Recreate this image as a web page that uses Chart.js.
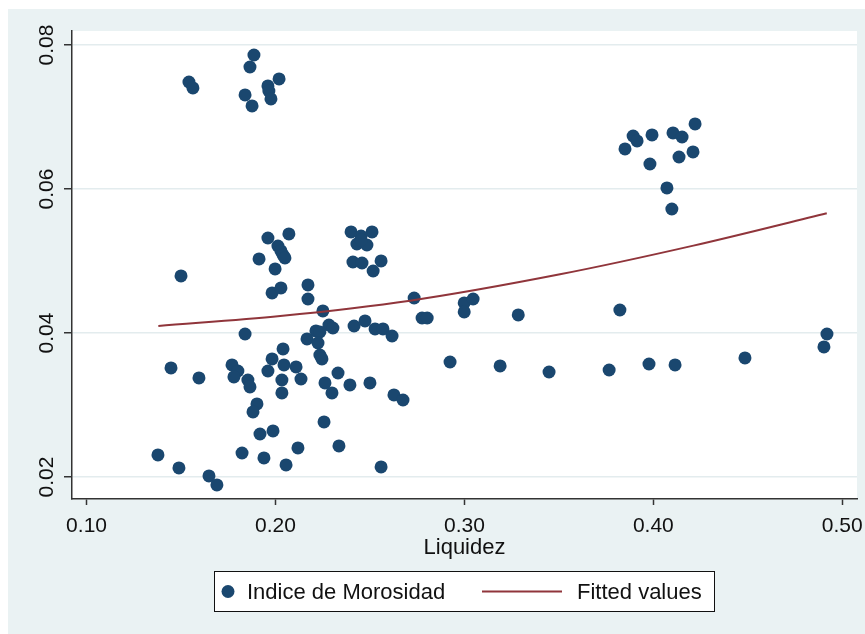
<!DOCTYPE html>
<html>
<head>
<meta charset="utf-8">
<title>Indice de Morosidad vs Liquidez</title>
<script src="https://cdn.jsdelivr.net/npm/chart.js@4.4.0/dist/chart.umd.min.js"></script>
<style>
  body { margin: 0; background: #fff; }
  canvas { display: block; }
</style>
</head>
<body>
<canvas id="scatterChart" width="865" height="634"></canvas>
<script>
// values
const liquidez = [
  0.1542, 0.1563, 0.1886, 0.1865, 0.1839, 0.1876, 0.1960, 0.1965, 0.1976, 0.2019,
  0.1500, 0.1960, 0.2071, 0.2013, 0.2029, 0.2040, 0.2050, 0.1913, 0.1998, 0.1982,
  0.2029, 0.2172, 0.2172, 0.2400, 0.2511, 0.2453, 0.2431, 0.2484, 0.2453, 0.2410,
  0.2458, 0.2559, 0.2517, 0.2734, 0.2776, 0.2803, 0.2999, 0.3046, 0.2999, 0.3285,
  0.2251, 0.2283, 0.2304, 0.2214, 0.2235, 0.2167, 0.2225, 0.2416, 0.2474, 0.2527,
  0.2569, 0.2617, 0.1839, 0.2040, 0.1982, 0.2045, 0.1960, 0.2109, 0.2034, 0.2135,
  0.2034, 0.1770, 0.1801, 0.1780, 0.1854, 0.1865, 0.1902, 0.1881, 0.2235, 0.2246,
  0.2331, 0.2262, 0.2299, 0.2394, 0.2500, 0.2627, 0.2675, 0.1447, 0.1595, 0.2257,
  0.1918, 0.1987, 0.1378, 0.1489, 0.1648, 0.1690, 0.1823, 0.1939, 0.2056, 0.2119,
  0.2336, 0.2559, 0.2924, 0.3189, 0.3448, 0.4221, 0.3893, 0.3914, 0.3850, 0.3993,
  0.4104, 0.4152, 0.4210, 0.4136, 0.3982, 0.4072, 0.4098, 0.3823, 0.3766, 0.3977,
  0.4115, 0.4485, 0.4919, 0.4903
];
const morosidad = [
  0.07486, 0.07403, 0.07861, 0.07694, 0.07306, 0.07153, 0.07431, 0.07361, 0.07250, 0.07528,
  0.04792, 0.05319, 0.05375, 0.05208, 0.05139, 0.05083, 0.05042, 0.05028, 0.04889, 0.04556,
  0.04625, 0.04667, 0.04472, 0.05403, 0.05403, 0.05347, 0.05236, 0.05222, 0.05292, 0.04986,
  0.04972, 0.05000, 0.04861, 0.04486, 0.04208, 0.04208, 0.04417, 0.04472, 0.04292, 0.04250,
  0.04306, 0.04111, 0.04069, 0.04028, 0.04014, 0.03917, 0.03861, 0.04097, 0.04167, 0.04056,
  0.04056, 0.03958, 0.03986, 0.03778, 0.03639, 0.03556, 0.03472, 0.03528, 0.03347, 0.03361,
  0.03167, 0.03556, 0.03472, 0.03389, 0.03347, 0.03250, 0.03014, 0.02903, 0.03694, 0.03639,
  0.03444, 0.03306, 0.03167, 0.03278, 0.03306, 0.03139, 0.03069, 0.03514, 0.03375, 0.02764,
  0.02597, 0.02639, 0.02306, 0.02125, 0.02014, 0.01889, 0.02333, 0.02264, 0.02167, 0.02403,
  0.02431, 0.02139, 0.03597, 0.03542, 0.03458, 0.06903, 0.06736, 0.06667, 0.06556, 0.06750,
  0.06778, 0.06722, 0.06514, 0.06444, 0.06347, 0.06014, 0.05722, 0.04319, 0.03486, 0.03569,
  0.03556, 0.03653, 0.03986, 0.03806
];

// fitted curve, read at a few places along the line
const fitX = [0.138, 0.2025, 0.2712, 0.3506, 0.4212, 0.4918];
const fitY = [0.04097, 0.04236, 0.04449, 0.04815, 0.05213, 0.05662];

const xTicks = [0.10, 0.20, 0.30, 0.40, 0.50];
const yTicks = [0.02, 0.04, 0.06, 0.08];

const NAVY = "#1a476f";
const MAROON = "#90353b";
const BG = "#eaf2f3";
const FONT = "'Liberation Sans', Arial, sans-serif";

// background, plot area, y labels and legend box (Stata look)
const stataLook = {
    id: "stataLook",
    beforeDraw(chart) {
        const ctx = chart.ctx;
        const a = chart.chartArea;
        ctx.save();
        ctx.fillStyle = "#fff";
        ctx.fillRect(0, 0, chart.width, chart.height);
        ctx.fillStyle = BG;
        ctx.fillRect(8, 9, chart.width - 8, chart.height - 9);
        ctx.fillStyle = "#fff";
        ctx.fillRect(a.left, a.top, a.right - a.left, a.bottom - a.top);
        ctx.restore();
    },
    afterDraw(chart) {
        const ctx = chart.ctx;
        const y = chart.scales.y;
        ctx.save();
        ctx.fillStyle = "#111";
        ctx.font = "21px " + FONT;
        ctx.textAlign = "center";
        ctx.textBaseline = "middle";
        yTicks.forEach(v => {
            const py = y.getPixelForValue(v);
            ctx.save();
            ctx.translate(47, py);
            ctx.rotate(-Math.PI / 2);
            ctx.fillText(v.toFixed(2), 0, 0);
            ctx.restore();
        });

        // legend
        const lx = 214.5, ly = 571.5, lw = 500, lh = 40;
        const cy = ly + lh / 2;
        ctx.fillStyle = "#fff";
        ctx.fillRect(lx, ly, lw, lh);
        ctx.strokeStyle = "#111";
        ctx.lineWidth = 1;
        ctx.strokeRect(lx, ly, lw, lh);

        ctx.fillStyle = NAVY;
        ctx.beginPath();
        ctx.arc(228, cy, 6.5, 0, Math.PI * 2);
        ctx.fill();

        ctx.strokeStyle = MAROON;
        ctx.lineWidth = 2;
        ctx.beginPath();
        ctx.moveTo(482, cy);
        ctx.lineTo(562, cy);
        ctx.stroke();

        ctx.fillStyle = "#111";
        ctx.font = "22px " + FONT;
        ctx.textAlign = "left";
        ctx.fillText("Indice de Morosidad", 247, cy + 1);
        ctx.fillText("Fitted values", 577, cy + 1);
        ctx.restore();
    }
};

const ctx = document.getElementById("scatterChart");

new Chart(ctx, {
    type: "scatter",
    data: {
        datasets: [
            {
                label: "Fitted values",
                type: "line",
                data: fitX.map((x, i) => ({ x, y: fitY[i] })),
                borderColor: MAROON,
                borderWidth: 2,
                pointRadius: 0,
                fill: false,
                cubicInterpolationMode: "monotone",
                order: 0
            },
            {
                label: "Indice de Morosidad",
                data: liquidez.map((x, i) => ({ x, y: morosidad[i] })),
                backgroundColor: NAVY,
                borderWidth: 0,
                pointRadius: 6.5,
                order: 1
            }
        ]
    },
    options: {
        responsive: false,
        animation: false,
        layout: { padding: { left: 8, right: 8, top: 31, bottom: 73 } },
        plugins: {
            legend: { display: false },
            tooltip: { enabled: false }
        },
        scales: {
            x: {
                type: "linear",
                min: 0.0923,
                max: 0.5078,
                afterBuildTicks: s => { s.ticks = xTicks.map(v => ({ value: v })); },
                afterFit: s => {
                    s.height = 62;
                    s.paddingLeft = 0;
                    s.paddingRight = 0;
                },
                border: { color: "#333", width: 1.5 },
                grid: {
                    drawOnChartArea: false,
                    tickColor: "#333",
                    tickLength: 6,
                    tickWidth: 1.5
                },
                ticks: {
                    color: "#111",
                    font: { family: FONT, size: 21 },
                    padding: 9,
                    maxRotation: 0,
                    callback: v => v.toFixed(2)
                },
                title: {
                    display: true,
                    text: "Liquidez",
                    color: "#111",
                    font: { family: FONT, size: 22 },
                    padding: { top: 0, bottom: 0 }
                }
            },
            y: {
                type: "linear",
                min: 0.01694,
                max: 0.08194,
                afterBuildTicks: s => { s.ticks = yTicks.map(v => ({ value: v })); },
                afterFit: s => {
                    s.width = 64;
                    s.paddingTop = 0;
                    s.paddingBottom = 0;
                },
                border: { color: "#333", width: 1.5 },
                grid: {
                    color: "#e3ecee",
                    lineWidth: 1.5,
                    tickColor: "#333",
                    tickLength: 8,
                    tickWidth: 1.5
                },
                ticks: { display: false }
            }
        }
    },
    plugins: [stataLook]
});
</script>
</body>
</html>
